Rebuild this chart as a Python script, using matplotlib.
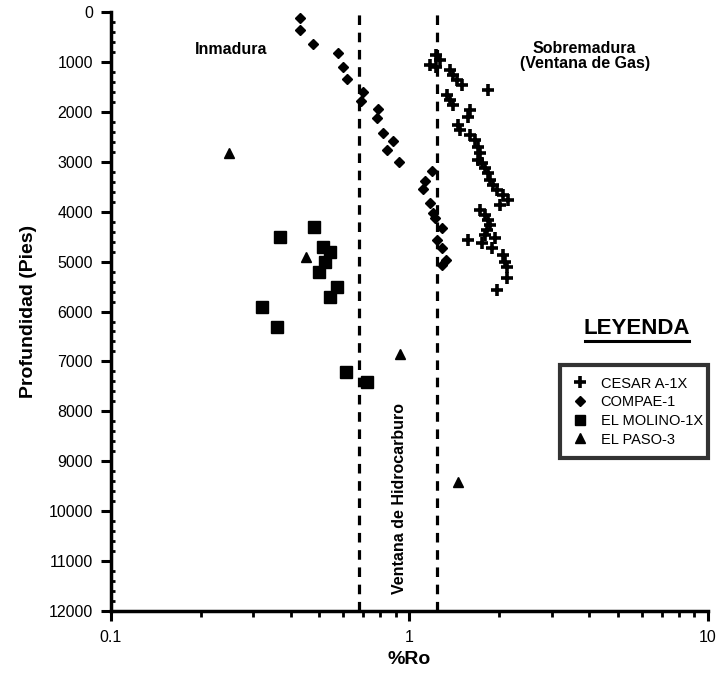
import matplotlib
matplotlib.use("Agg")
import matplotlib.pyplot as plt
from matplotlib.lines import Line2D
from matplotlib.ticker import LogLocator, MultipleLocator, FixedLocator, FixedFormatter

plt.rcParams['font.family'] = ['Liberation Sans', 'DejaVu Sans']

# ---- data ----
cesar_ro = [1.227, 1.265, 1.17, 1.227, 1.367, 1.399, 1.443, 1.50, 1.832, 1.335,
            1.367, 1.399, 1.595, 1.57, 1.454, 1.476, 1.595, 1.657, 1.696, 1.722,
            1.696, 1.749, 1.79, 1.832, 1.861, 1.905, 1.964, 2.057, 2.138, 2.01,
            1.722, 1.79, 1.832, 1.861, 1.818, 1.79, 1.57, 1.749, 1.934, 1.889,
            2.057, 2.089, 2.121, 2.121, 1.964]
cesar_depth = [861, 961, 1062, 1102, 1162, 1262, 1362, 1462, 1562, 1662,
               1763, 1863, 1963, 2103, 2263, 2364, 2464, 2564, 2704, 2824,
               2964, 3025, 3125, 3225, 3365, 3465, 3565, 3665, 3766, 3866,
               3966, 4066, 4166, 4266, 4367, 4467, 4567, 4627, 4527, 4727,
               4867, 5008, 5108, 5328, 5568]

compae_ro = [0.43, 0.43, 0.475, 0.575, 0.598, 0.617, 0.698, 0.688, 0.784, 0.778,
             0.815, 0.881, 0.841, 0.922, 1.19, 1.127, 1.11, 1.17, 1.20, 1.217,
             1.285, 1.236, 1.285, 1.325, 1.285]
compae_depth = [120, 360, 641, 821, 1100, 1342, 1602, 1783, 1943, 2123,
                2424, 2584, 2764, 3005, 3185, 3385, 3545, 3826, 4026, 4126,
                4326, 4567, 4727, 4967, 5068]

molino_ro = [0.479, 0.368, 0.513, 0.541, 0.521, 0.497, 0.571, 0.541, 0.321, 0.360,
             0.613, 0.720]
molino_depth = [4307, 4507, 4707, 4807, 5008, 5208, 5508, 5709, 5909, 6309,
                 7211, 7411]

paso_ro = [0.248, 0.450, 0.929, 1.454]
paso_depth = [2830, 4907, 6850, 9414]

window_bounds = [0.68, 1.24]

series_names = ["CESAR A-1X", "COMPAE-1", "EL MOLINO-1X", "EL PASO-3"]

x_ticks = [0.1, 1, 10]
x_tick_labels = ["0.1", "1", "10"]
y_ticks = list(range(0, 12001, 1000))

# ---- figure ----
fig = plt.figure(figsize=(7.2, 6.73), dpi=100)
ax = fig.add_axes([0.154, 0.0921, 0.829, 0.890])

ax.set_xscale('log')
ax.set_xlim(0.1, 10)
ax.set_ylim(12000, 0)

k = dict(color='black', linestyle='None')
ax.plot(cesar_ro, cesar_depth, marker='+', markersize=9, markeredgewidth=2.6, **k)
ax.plot(compae_ro, compae_depth, marker='D', markersize=5.5, **k)
ax.plot(molino_ro, molino_depth, marker='s', markersize=8, **k)
ax.plot(paso_ro, paso_depth, marker='^', markersize=7, **k)

for xb in window_bounds:
    ax.axvline(xb, color='black', linewidth=2.3, linestyle=(0, (3.0, 2.4)), zorder=1)

# spines
for s in ['top', 'right']:
    ax.spines[s].set_visible(False)
for s in ['left', 'bottom']:
    ax.spines[s].set_linewidth(2.5)

ax.xaxis.set_major_locator(FixedLocator(x_ticks))
ax.xaxis.set_major_formatter(FixedFormatter(x_tick_labels))
ax.xaxis.set_minor_locator(LogLocator(base=10, subs=range(2, 10)))
ax.xaxis.set_minor_formatter(plt.NullFormatter())
ax.set_yticks(y_ticks)
ax.yaxis.set_minor_locator(MultipleLocator(200))

ax.tick_params(axis='both', which='major', direction='out', length=7, width=2.2,
               labelsize=11.5)
ax.tick_params(axis='x', which='major', pad=7)
ax.tick_params(axis='y', which='major', pad=6)
ax.tick_params(axis='x', which='minor', direction='out', length=4, width=2)
ax.tick_params(axis='y', which='minor', direction='in', length=3, width=2)

ax.set_xlabel("%Ro", fontsize=14, fontweight='bold', labelpad=4)
ax.set_ylabel("Profundidad (Pies)", fontsize=14, fontweight='bold', labelpad=8)

# annotations
ax.text(0.252, 760, "Inmadura", fontsize=11.5, fontweight='bold', ha='center', va='center')
ax.text(3.87, 880, "Sobremadura\n(Ventana de Gas)", fontsize=11.5, fontweight='bold',
        ha='center', va='center', linespacing=1.05)
ax.text(0.93, 9750, "Ventana de Hidrocarburo", fontsize=11.5, fontweight='bold',
        rotation=90, ha='center', va='center')

# legend title with underline
fig.text(0.885, 1 - 328 / 673, "LEYENDA", fontsize=16, fontweight='bold',
         ha='center', va='center')
fig.add_artist(Line2D([0.813, 0.957], [1 - 341 / 673, 1 - 341 / 673],
                      color='black', linewidth=2.2))

handles = [
    Line2D([], [], color='black', linestyle='None', marker='+', markersize=9, markeredgewidth=2.6),
    Line2D([], [], color='black', linestyle='None', marker='D', markersize=5.5),
    Line2D([], [], color='black', linestyle='None', marker='s', markersize=7),
    Line2D([], [], color='black', linestyle='None', marker='^', markersize=7),
]
leg = ax.legend(handles, series_names, loc='upper left',
                bbox_to_anchor=(0.752, 0.25, 0.248, 0.161), mode='expand',
                fancybox=False, edgecolor='black', fontsize=10.5,
                handlelength=1.2, handletextpad=0.8, labelspacing=0.32,
                borderpad=0.8, borderaxespad=0)
leg.get_frame().set_linewidth(3)

fig.savefig("out.png", dpi=100)
